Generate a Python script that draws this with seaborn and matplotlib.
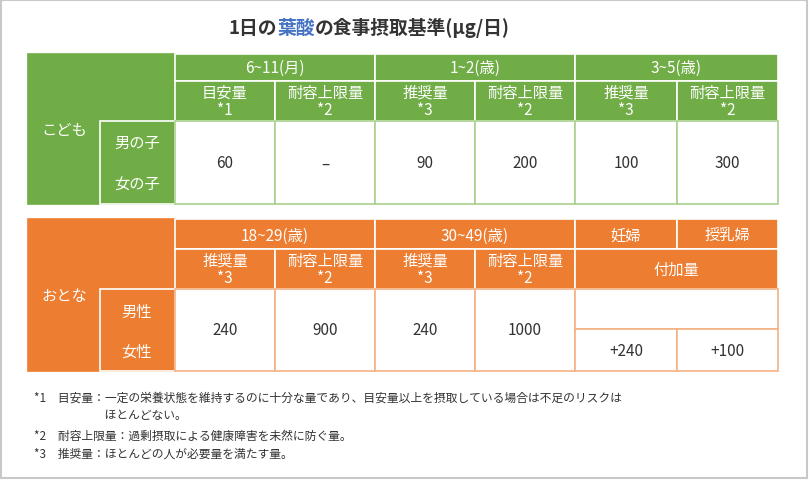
import matplotlib
matplotlib.use("Agg")
import matplotlib.pyplot as plt
from matplotlib.patches import Rectangle
import seaborn as sns

sns.set_theme(style="white", font="Noto Sans CJK JP")

title_parts = ["1日の", "葉酸", "の食事摂取基準(μg/日)"]
kid_ages = ["6~11(月)", "1~2(歳)", "3~5(歳)"]
kid_types = ["目安量\n*1", "耐容上限量\n*2", "推奨量\n*3", "耐容上限量\n*2", "推奨量\n*3", "耐容上限量\n*2"]
kid_values = ["60", "–", "90", "200", "100", "300"]
kid_rows = ["男の子", "女の子"]
adult_ages = ["18~29(歳)", "30~49(歳)"]
adult_types = ["推奨量\n*3", "耐容上限量\n*2", "推奨量\n*3", "耐容上限量\n*2"]
adult_values = ["240", "900", "240", "1000"]
adult_rows = ["男性", "女性"]
preg_labels = ["妊婦", "授乳婦"]
preg_values = ["+240", "+100"]
notes = ["*1　目安量：一定の栄養状態を維持するのに十分な量であり、目安量以上を摂取している場合は不足のリスクは",
         "　　　　　　ほとんどない。",
         "*2　耐容上限量：過剰摂取による健康障害を未然に防ぐ量。",
         "*3　推奨量：ほとんどの人が必要量を満たす量。"]

GREEN, LGREEN = "#70AD47", "#A9D18E"
ORANGE, LORANGE = "#ED7D31", "#F4B183"

fig = plt.figure(figsize=(8.09, 4.81), dpi=100)
ax = fig.add_axes([0, 0, 1, 1])
ax.set_xlim(0, 809); ax.set_ylim(481, 0); ax.axis("off")
ax.add_patch(Rectangle((1, 1), 806, 478, fill=False, ec="#C8C8C8", lw=1.5))

# title
x = 404 - 175
tc = ["#333333", "#4472C4", "#333333"]
r = fig.canvas.get_renderer()
for s, c in zip(title_parts, tc):
    t = ax.text(x, 28, s, color=c, fontsize=13.5, fontweight="bold", va="center", ha="left")
    bb = t.get_window_extent(renderer=r)
    x += bb.width

cols = [175, 275, 375, 475, 575, 677, 778]
L = 28

def cell(x0, y0, x1, y1, fc, ec="white", lw=1.2):
    ax.add_patch(Rectangle((x0, y0), x1 - x0, y1 - y0, fc=fc, ec=ec, lw=lw))

def txt(x, y, s, color="white", fs=11):
    ax.text(x, y, s, color=color, fontsize=fs, ha="center", va="center", linespacing=1.0)

# kids table
cell(L, 55, 175, 205, GREEN, ec=GREEN)
txt(64, 131, "こども")
cell(100, 122, 175, 205, GREEN)
for i, s in enumerate(kid_rows):
    txt(137, 143 + 42 * i, s)
for i, s in enumerate(kid_ages):
    cell(cols[2 * i], 55, cols[2 * i + 2], 82, GREEN)
    txt((cols[2 * i] + cols[2 * i + 2]) / 2, 68, s)
for i in range(6):
    cell(cols[i], 82, cols[i + 1], 122, GREEN)
    txt((cols[i] + cols[i + 1]) / 2, 102, kid_types[i])
    cell(cols[i], 122, cols[i + 1], 205, "white", ec=LGREEN)
    txt((cols[i] + cols[i + 1]) / 2, 164, kid_values[i], color="#333333")

# adults table
T = 220
cell(L, T, 175, 372, ORANGE, ec=ORANGE)
txt(64, 297, "おとな")
cell(100, 290, 175, 372, ORANGE)
for i, s in enumerate(adult_rows):
    txt(137, 312 + 40 * i, s)
for i, s in enumerate(adult_ages):
    cell(cols[2 * i], T, cols[2 * i + 2], 250, ORANGE)
    txt((cols[2 * i] + cols[2 * i + 2]) / 2, 236, s)
for i in range(4):
    cell(cols[i], 250, cols[i + 1], 290, ORANGE)
    txt((cols[i] + cols[i + 1]) / 2, 270, adult_types[i])
    cell(cols[i], 290, cols[i + 1], 372, "white", ec=LORANGE)
    txt((cols[i] + cols[i + 1]) / 2, 331, adult_values[i], color="#333333")
for i, s in enumerate(preg_labels):
    cell(cols[4 + i], T, cols[5 + i], 250, ORANGE)
    txt((cols[4 + i] + cols[5 + i]) / 2, 236, s)
cell(575, 250, 778, 290, ORANGE)
txt(676, 270, "付加量")
cell(575, 290, 778, 330, "white", ec=LORANGE)
for i, s in enumerate(preg_values):
    cell(cols[4 + i], 330, cols[5 + i], 372, "white", ec=LORANGE)
    txt((cols[4 + i] + cols[5 + i]) / 2, 352, s, color="#333333")

for i, (s, y) in enumerate(zip(notes, [398, 416, 436, 454])):
    ax.text(34, y, s, fontsize=8.5, color="#333333", va="center", ha="left")

fig.savefig("out.png", dpi=100)
